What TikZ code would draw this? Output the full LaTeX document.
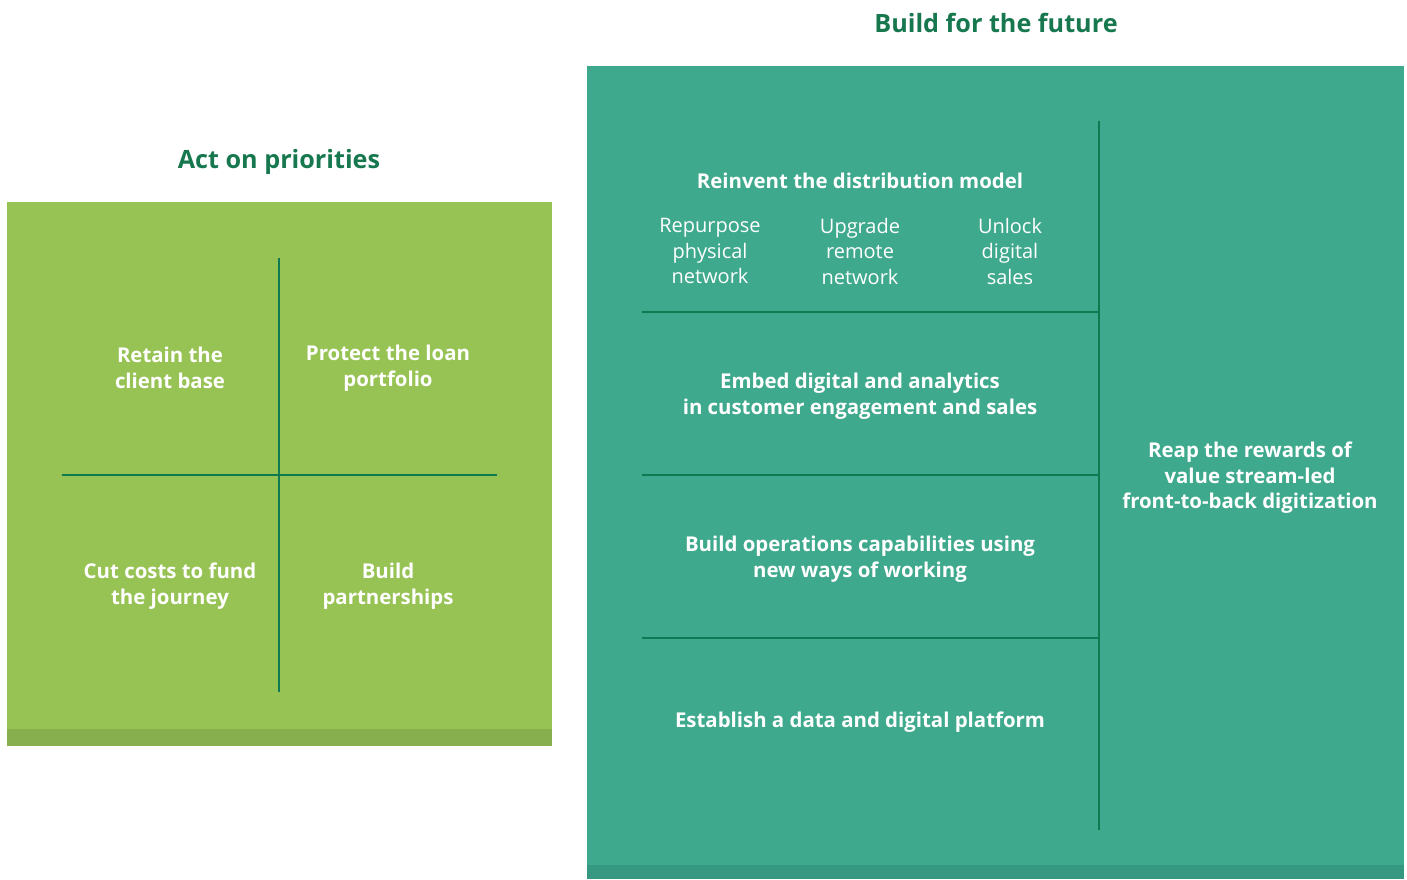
\documentclass[tikz,border=0pt]{standalone}
\usepackage{fontspec}
\setmainfont{Open Sans}
\definecolor{lgreen}{HTML}{97C355}
\definecolor{lgreenstrip}{HTML}{87AF4D}
\definecolor{teal}{HTML}{3EA98D}
\definecolor{tealstrip}{HTML}{369880}
\definecolor{dgreen}{HTML}{0E7A52}
\definecolor{titlegreen}{HTML}{17784F}
\begin{document}
\begin{tikzpicture}[x=1pt,y=-1pt,
  divider/.style={draw=dgreen,line width=2pt},
  boldtxt/.style={text=white,font=\fontsize{20.4}{25.5}\selectfont\bfseries,align=center,inner sep=0pt},
  regtxt/.style={text=white,font=\fontsize{20}{25.5}\selectfont,align=center,inner sep=0pt},
  titletxt/.style={text=titlegreen,font=\fontsize{25.2}{30}\selectfont\bfseries,inner sep=0pt}]
\useasboundingbox (0,0) rectangle (1407,879);
% left panel
\fill[lgreen] (7,202) rectangle (552,746);
\fill[lgreenstrip] (7,729) rectangle (552,746);
\coordinate (lv1) at (279,258); \coordinate (lv2) at (279,692);
\coordinate (lh1) at (62,475); \coordinate (lh2) at (497,475);
\draw[divider] (lv1) -- (lv2);
\draw[divider] (lh1) -- (lh2);
\node[titletxt] (t1) at (279,162) {Act on priorities};
\node[boldtxt] (q1) at (170,368) {Retain the\\client base};
\node[boldtxt] (q2) at (388,368) {Protect the loan\\portfolio};
\node[boldtxt] (q3) at (170,586) {Cut costs to fund\\the journey};
\node[boldtxt] (q4) at (388,586) {Build\\partnerships};
% right panel
\fill[teal] (587,66) rectangle (1404,879);
\fill[tealstrip] (587,865) rectangle (1404,879);
\coordinate (rv1) at (1099,121); \coordinate (rv2) at (1099,830);
\draw[divider] (rv1) -- (rv2);
\coordinate (ha1) at (642,312); \coordinate (ha2) at (1099,312);
\coordinate (hb1) at (642,475); \coordinate (hb2) at (1099,475);
\coordinate (hc1) at (642,638); \coordinate (hc2) at (1099,638);
\draw[divider] (ha1) -- (ha2);
\draw[divider] (hb1) -- (hb2);
\draw[divider] (hc1) -- (hc2);
\node[titletxt] (t2) at (996,23) {Build for the future};
\node[boldtxt] (r1) at (860,181) {Reinvent the distribution model};
\node[regtxt] (s1) at (710,251) {Repurpose\\physical\\network};
\node[regtxt] (s2) at (860,251) {Upgrade\\remote\\network};
\node[regtxt] (s3) at (1010,251) {Unlock\\digital\\sales};
\node[boldtxt] (r2) at (860,396) {Embed digital and analytics\\in customer engagement and sales};
\node[boldtxt] (r3) at (860,559) {Build operations capabilities using\\new ways of working};
\node[boldtxt] (r4) at (860,722) {Establish a data and digital platform};
\node[boldtxt] (r5) at (1250,478) {Reap the rewards of\\value stream-led\\front-to-back digitization};
\end{tikzpicture}
\end{document}
